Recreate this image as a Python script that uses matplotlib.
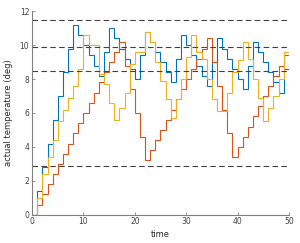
import numpy as np
import matplotlib
matplotlib.use('Agg')
import matplotlib.pyplot as plt

# step edges 0..50, one value per interval
edges = np.arange(0, 51)

blue = [0, 1.4, 2.8, 4.2, 5.6, 7.0, 8.4, 9.8, 11.2, 10.6,
        10.0, 9.4, 8.8, 8.2, 9.6, 11.0, 10.4, 9.8, 9.2, 8.6,
        8.0, 9.4, 10.8, 10.2, 9.6, 9.0, 8.4, 7.8, 9.2, 10.6,
        10.0, 9.4, 8.8, 8.2, 7.6, 9.0, 10.4, 9.8, 9.2, 8.6,
        8.0, 7.4, 8.8, 10.2, 9.6, 9.0, 8.4, 7.8, 7.2, 8.6]

orange = [0, 0.6, 1.2, 1.8, 2.4, 3.0, 3.6, 4.2, 4.8, 5.4,
          6.0, 6.6, 7.2, 7.8, 8.4, 9.0, 9.6, 10.2, 8.8, 7.4,
          6.0, 4.6, 3.2, 3.8, 4.4, 5.0, 5.6, 6.2, 6.8, 7.4,
          8.0, 8.6, 9.2, 9.8, 10.4, 9.0, 7.6, 6.2, 4.8, 3.4,
          4.0, 4.6, 5.2, 5.8, 6.4, 7.0, 7.6, 8.2, 8.8, 9.4]

yellow = [0, 1.0, 2.4, 3.4, 4.4, 5.5, 6.2, 6.9, 7.6, 8.6,
          10.6, 10.0, 10.0, 8.3, 7.7, 6.6, 5.6, 6.3, 7.2, 8.9,
          9.6, 9.6, 10.8, 10.2, 9.0, 7.9, 6.8, 5.7, 6.8, 8.0,
          9.3, 10.6, 9.6, 9.2, 8.0, 6.8, 6.1, 6.1, 7.2, 8.4,
          9.1, 10.2, 9.2, 8.0, 6.9, 5.5, 6.3, 7.0, 8.0, 9.6]

limits = [11.5, 9.9, 8.5, 2.9]

fig = plt.figure(figsize=(3.0, 2.43), dpi=100)
ax = fig.add_axes([0.107, 0.1165, 0.856, 0.837])

ax.stairs(blue, edges, baseline=None, color='#0072BD', lw=0.8)
ax.stairs(orange, edges, baseline=None, color='#D95319', lw=0.8)
ax.stairs(yellow, edges, baseline=None, color='#EDB120', lw=0.8)

for v in limits:
    ax.plot([0, 50], [v, v], color='#404040', lw=0.8, dashes=(5, 3))

ax.set_xlim(0, 50)
ax.set_ylim(0, 12)
ax.set_xticks([0, 10, 20, 30, 40, 50])
ax.set_yticks([0, 2, 4, 6, 8, 10, 12])
ax.set_xlabel('time', fontsize=6, color='#262626', labelpad=2.5)
ax.set_ylabel('actual temperature (deg)', fontsize=6, color='#262626', labelpad=4.5)

for s in ['top', 'right']:
    ax.spines[s].set_visible(False)
for s in ['left', 'bottom']:
    ax.spines[s].set_color('#808080')
    ax.spines[s].set_linewidth(0.8)
ax.tick_params(direction='in', length=2, width=0.6, color='#808080',
               labelsize=5.5, labelcolor='#404040', pad=2)

fig.savefig('out.png', dpi=100)
